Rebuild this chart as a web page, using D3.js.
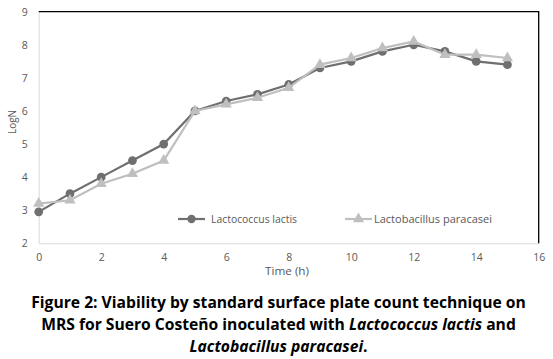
<!DOCTYPE html>
<html><head><meta charset="utf-8">
<script src="https://cdn.jsdelivr.net/npm/d3@7"></script>
<style>body{margin:0;background:#fff}svg{display:block}</style>
</head><body>
<script>
const hours = [0,1,2,3,4,5,6,7,8,9,10,11,12,13,14,15];
const lactis = [2.95,3.5,4.0,4.5,5.0,6.0,6.3,6.5,6.8,7.3,7.5,7.8,8.0,7.8,7.5,7.4];
const paracasei = [3.2,3.3,3.8,4.1,4.5,6.0,6.2,6.4,6.7,7.4,7.6,7.9,8.1,7.7,7.7,7.6];
const seriesNames = ["Lactococcus lactis","Lactobacillus paracasei"];
const xTicks = [0,2,4,6,8,10,12,14,16];
const yTicks = [2,3,4,5,6,7,8,9];

const W=553,H=359;
const svg=d3.select("body").append("svg").attr("width",W).attr("height",H);
const font="Open Sans, Lato, sans-serif";
const fsz="10.5px";
const x=d3.scaleLinear().domain([0,16]).range([38.7,538.7]);
const y=d3.scaleLinear().domain([2,9]).range([243.3,11.7]);

// axes
const xa=svg.append("g").attr("transform",`translate(0,${y(2)})`)
  .call(d3.axisBottom(x).tickValues(xTicks).tickFormat(d3.format("d")).tickSize(0).tickPadding(10));
const ya=svg.append("g").attr("transform",`translate(${x(0)},0)`)
  .call(d3.axisLeft(y).tickValues(yTicks).tickFormat(d3.format("d")).tickSize(0).tickPadding(11));
[xa,ya].forEach(g=>{
  g.select(".domain").attr("stroke","#d9d9d9").attr("stroke-width",1);
  g.selectAll("text").attr("fill","#595959").style("font-family",font).style("font-size",fsz);
});
// top & right black border
svg.append("path").attr("d",`M${x(0)},${y(9)}H${x(16)}V${y(2)}`)
  .attr("fill","none").attr("stroke","#000").attr("stroke-width",1.3);

const cols=["#6f6f6f","#bfbfbf"];
const data=[lactis,paracasei];
const line=d3.line().x((d,i)=>x(hours[i])).y(d=>y(d));
data.forEach((s,k)=>{
  svg.append("path").datum(s).attr("d",line).attr("fill","none")
   .attr("stroke",cols[k]).attr("stroke-width",2.2);
  const sym=k===0?d3.symbolCircle:d3.symbolTriangle;
  svg.append("g").selectAll("path").data(s).join("path")
   .attr("d",d3.symbol(sym,k===0?60:55))
   .attr("transform",(d,i)=>`translate(${x(hours[i])},${y(d)})`)
   .attr("fill",cols[k]);
});

// legend
const leg=[{x0:178,x1:205,tx:211,w:86},{x0:345,x1:372,tx:374,w:118}];
leg.forEach((l,k)=>{
  const ly=219;
  svg.append("line").attr("x1",l.x0).attr("x2",l.x1).attr("y1",ly).attr("y2",ly)
   .attr("stroke",cols[k]).attr("stroke-width",2.2);
  svg.append("path").attr("d",d3.symbol(k===0?d3.symbolCircle:d3.symbolTriangle,55))
   .attr("transform",`translate(${(l.x0+l.x1)/2},${ly})`).attr("fill",cols[k]);
  svg.append("text").attr("x",l.tx).attr("y",ly+3.8).text(seriesNames[k])
   .attr("fill","#595959").style("font-family",font).style("font-size",fsz)
   .attr("textLength",l.w).attr("lengthAdjust","spacingAndGlyphs");
});

// axis titles
svg.append("text").attr("x",287).attr("y",274.5).attr("text-anchor","middle")
  .text("Time (h)").attr("fill","#595959").style("font-family",font).style("font-size",fsz)
  .attr("textLength",44).attr("lengthAdjust","spacingAndGlyphs");
svg.append("text").attr("transform","translate(15.5,122) rotate(-90)").attr("text-anchor","middle")
  .text("LogN").attr("fill","#595959").style("font-family",font).style("font-size",fsz)
  .attr("textLength",24).attr("lengthAdjust","spacingAndGlyphs");

// caption
const cap=[
  {y:308,parts:[["Figure 2: Viability by standard surface plate count technique on",false]]},
  {y:330,parts:[["MRS for Suero Costeño inoculated with ",false],["Lactococcus lactis",true],[" and",false]]},
  {y:352,parts:[["Lactobacillus paracasei",true],[".",false]]}
];
const fs=17;
cap.forEach(c=>{
  const t=svg.append("text").attr("x",W/2+2).attr("y",c.y).attr("text-anchor","middle")
   .style("font-family","Open Sans, sans-serif").style("font-weight","bold").style("font-size",fs+"px").attr("fill","#000");
  c.parts.forEach(p=>t.append("tspan").text(p[0]).style("font-style",p[1]?"italic":"normal"));
  c.el=t;
});
const w0=cap[0].el.node().getComputedTextLength();
const nfs=fs*495/w0;
cap.forEach(c=>c.el.style("font-size",nfs+"px"));
</script>
</body></html>
